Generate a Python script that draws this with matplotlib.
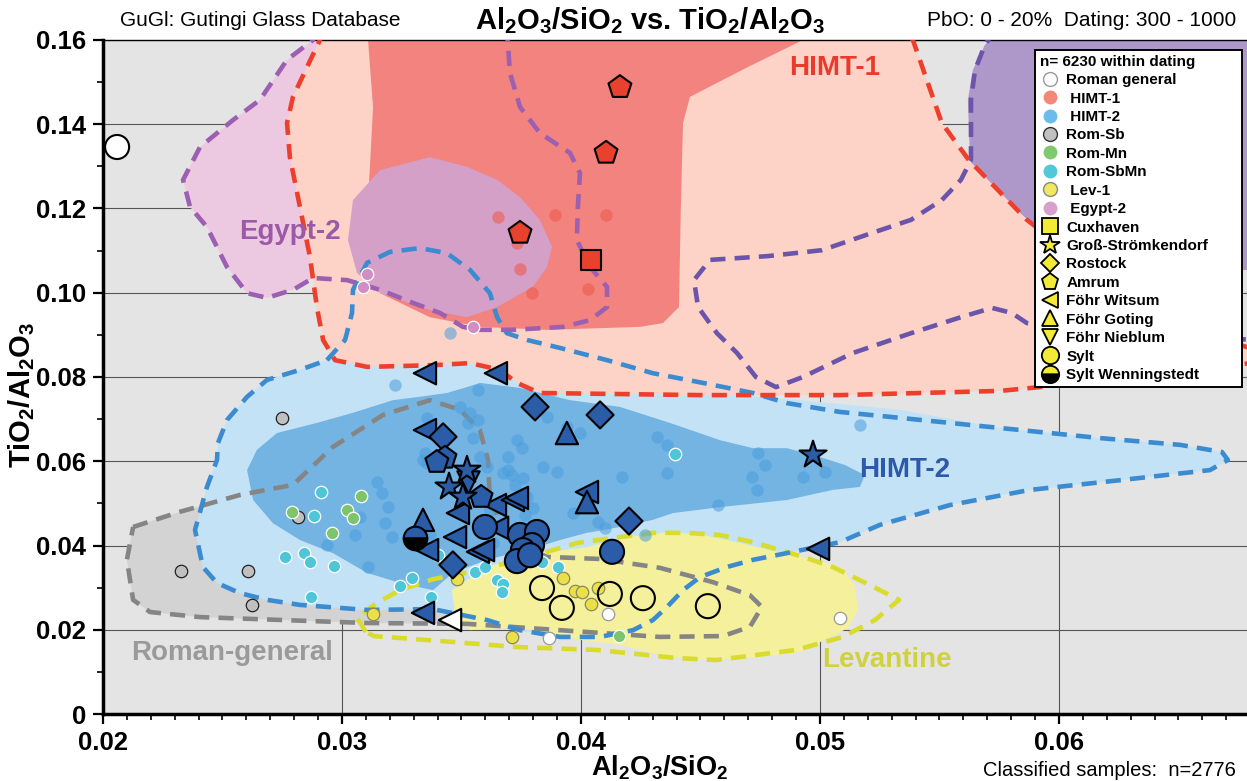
import numpy as np
import matplotlib.pyplot as plt
from matplotlib.patches import Polygon
from matplotlib.lines import Line2D
from matplotlib.ticker import FixedLocator, MultipleLocator

plt.rcParams['font.family'] = ['Liberation Sans', 'DejaVu Sans']
plt.rcParams['mathtext.fontset'] = 'custom'
plt.rcParams['mathtext.rm'] = 'Liberation Sans'
plt.rcParams['mathtext.bf'] = 'Liberation Sans:bold'
plt.rcParams['mathtext.default'] = 'bf'

# ---------------- group contours (Al2O3/SiO2 , TiO2/Al2O3) ----------------
roman_x = [.02126, .02322, .02573, .02795, .02962, .03172, .03368, .03494, .03577, .03611, .03619, .03703,
           .03858, .0408, .0433, .04552, .04707, .04757, .04707, .04594, .0433, .03912, .03523, .03105,
           .02406, .02197, .02126, .0210]
roman_y = [.0444, .0480, .0520, .0544, .0634, .0710, .0745, .0722, .0674, .0603, .0508, .0413,
           .0373, .0368, .0347, .0313, .0282, .0254, .0207, .0185, .0183, .0199, .0214, .0216,
           .0230, .0242, .0271, .0366]

himt1_x = [.02921, .02908, .02854, .02795, .0277, .02782, .02824, .02866, .02895, .02921, .02971, .03105,
           .03381, .03536, .03661, .03732, .03828, .04498, .05084, .05753, .0592, .06381, .0685, .0685,
           .06632, .06381, .06172, .06004, .05866, .05623, .0551, .05389, .05356]
himt1_y = [.1624, .1600, .1536, .1465, .1403, .1322, .1204, .1085, .0966, .0888, .0840, .0824,
           .0828, .0833, .0817, .0786, .0762, .0757, .0757, .0767, .0776, .0805, .0836, .0859,
           .0900, .0983, .1054, .1113, .1173, .1315, .1403, .1600, .1624]

himt1_core_x = [.03109, .04958, .04929, .04699, .04569, .04456, .04427, .04418, .0441, .04343, .04247,
                .03858, .03577, .03368, .03159, .03096, .03117, .0313, .03109]
himt1_core_y = [.1624, .1624, .1600, .1536, .1498, .1465, .1403, .1204, .0966, .0928, .0919,
                .0912, .0919, .0942, .0999, .1101, .1299, .1441, .1600]

egypt2_x = [.02908, .02879, .0277, .02657, .02544, .02406, .02335, .02364, .02435, .02519, .02603, .02686,
            .02795, .02879, .03021, .03159, .03297, .0341, .03506, .03577, .03715, .03925, .04038, .04109,
            .04109, .04038, .03983, .03987, .03996, .03954, .03828, .03745, .03703, .0369]
egypt2_y = [.1624, .1600, .1553, .1458, .1410, .1346, .1268, .1204, .1156, .1061, .0999, .0988,
            .1007, .1035, .1030, .1007, .0976, .0952, .0919, .0912, .0912, .0919, .0935, .0966,
            .1014, .1061, .1125, .1204, .1284, .1332, .1379, .1441, .1522, .1624]

egypt2_core_x = [.03368, .03159, .03046, .03025, .03063, .03159, .03368, .03523, .03649, .03799, .03858,
                 .03879, .03828, .03745, .03649, .03523]
egypt2_core_y = [.1322, .1291, .1220, .1125, .1047, .0999, .0959, .0942, .0966, .1014, .1061,
                 .1109, .1173, .1227, .1268, .1299]

egypt1_x = [.05732, .0569, .05649, .05632, .05632, .0559, .0551, .05381, .05218, .05008, .04782, .0454,
            .04473, .0449, .04569, .04653, .04732, .04816, .04929, .05138, .05381, .0559, .0572, .05803,
            .05866, .06172, .0685]
egypt1_y = [.1624, .1588, .1529, .1458, .1315, .1268, .1220, .1173, .1142, .1101, .1087, .1078,
            .1030, .0966, .0904, .0857, .0800, .0776, .0800, .0857, .0904, .0942, .0964, .0952,
            .0928, .0900, .0888]

egypt1_core_x = [.05753, .0569, .0564, .05619, .05628, .05649, .05753, .05879, .06004, .06172, .0685, .0685]
egypt1_core_y = [.1624, .1588, .1529, .1458, .1315, .1280, .1232, .1168, .1113, .1054, .1054, .1624]

himt2_x = [.02937, .03013, .03042, .03046, .03105, .03201, .03326, .03439, .03536, .03619, .03649, .0369,
           .03774, .03912, .04109, .04301, .0451, .0472, .04862, .05084, .05335, .05753, .06172, .06506,
           .06682, .06707, .06632, .06255, .05879, .05544, .05251, .05084, .04862, .0472, .04611, .04498,
           .04427, .0436, .04301, .04218, .0408, .03912, .03745, .03607, .03381, .03105, .02824, .02686,
           .02573, .02477, .02418, .02385, .02435, .02477, .02481, .02519, .02603, .02686, .02824]
himt2_y = [.0840, .0888, .0952, .1007, .1071, .1097, .1106, .1094, .1054, .0999, .0942, .0904,
           .0888, .0869, .0840, .0809, .0786, .0762, .0738, .0717, .0703, .0679, .0655, .0639,
           .0622, .0603, .0579, .0555, .0532, .0496, .0449, .0408, .0382, .0366, .0349, .0325,
           .0294, .0254, .0223, .0199, .0183, .0183, .0199, .0223, .0249, .0247, .0259, .0271,
           .0287, .0311, .0349, .0437, .0539, .0603, .0643, .0698, .0753, .0793, .0817]

himt2_fill_x = [.02937, .03013, .03042, .03046, .03105, .03201, .03326, .03439, .03536, .03619, .03649,
                .0369, .03774, .03912, .04109, .04301, .0451, .04916, .05335, .05753, .06172, .06506,
                .06682, .06707, .06632, .06255, .05879, .05544, .05251, .05084, .04862, .0472, .04611,
                .04498, .04427, .0436, .04301, .04218, .0408, .03912, .03745, .03607, .03381, .03105,
                .02824, .02686, .02573, .02477, .02418, .02385, .02435, .02477, .02481, .02519, .02603,
                .02686, .02824]
himt2_fill_y = [.0840, .0888, .0952, .1007, .1071, .1097, .1106, .1094, .1054, .0999, .0942,
                .0904, .0888, .0869, .0840, .0805, .0764, .0745, .0722, .0679, .0655, .0639,
                .0622, .0603, .0579, .0555, .0532, .0496, .0449, .0408, .0382, .0366, .0349,
                .0325, .0294, .0254, .0223, .0199, .0183, .0183, .0199, .0223, .0249, .0247,
                .0259, .0271, .0287, .0311, .0349, .0437, .0539, .0603, .0643, .0698, .0753,
                .0793, .0817]

himt2_core_x = [.02603, .02644, .02728, .02895, .03046, .03213, .03326, .03439, .03523, .03577,
                .03745, .03954, .04163, .04372, .04582, .0472, .04862, .05, .05105, .05188,
                .05167, .05054, .04862, .04582, .04385, .04301, .04163, .04025, .03912, .03816,
                .03607, .03464, .03381, .03243, .03105, .02962, .02824, .02711, .02628]
himt2_core_y = [.0579, .0627, .0667, .0691, .0715, .0745, .0753, .0762, .0776, .0786,
                .0774, .0745, .0729, .0691, .0650, .0631, .0631, .0610, .0591, .0567,
                .0539, .0532, .0508, .0491, .0477, .0461, .0444, .0430, .0413, .0396,
                .0366, .0335, .0294, .0311, .0335, .0382, .0413, .0453, .0508]

lev_core_x = [.0346, .03607, .03816, .04025, .04192, .04372, .0451, .04653, .04791, .04929, .05084, .05146,
              .05159, .05117, .05063, .04916, .04749, .04498, .0433, .04163, .03996, .03828, .03661,
              .03536, .03473]
lev_core_y = [.0294, .0349, .0382, .0396, .0420, .0432, .0425, .0408, .0389, .0373, .0349, .0306,
              .0247, .0204, .0188, .0147, .0135, .0128, .0140, .0164, .0176, .0199, .0204,
              .0199, .0235]

lev_x = [.031, .03063, .03146, .03243, .03381, .03536, .03745, .03983, .04163, .04301, .04444, .04582,
         .0472, .04929, .05054, .05209, .05331, .0523, .05096, .049, .04732, .04565, .04397, .04067,
         .03732, .03464, .03134]
lev_y = [.0195, .0228, .0264, .0294, .0320, .0337, .0366, .0406, .0420, .0430, .0430, .0425,
         .0408, .0373, .0349, .0306, .0271, .0223, .0183, .0152, .0140, .0128, .0133, .0152,
         .0159, .0171, .0185]

# ---------------- classified reference samples ----------------
himt1_pts_x = [.03653, .03732, .03745, .03795, .03891, .04105, .04029]
himt1_pts_y = [.1180, .1118, .1056, .0999, .1185, .1185, .1009]

himt2_pts_x = [.0322, .03452, .03569, .03858, .03941, .03996, .03494, .03536, .03569, .03527, .03356,
               .03368, .03548, .03732, .03753, .03695, .03577, .03607, .03695, .03711, .03757, .03841,
               .039, .03724, .03774, .03799, .03766, .03967, .04071, .041, .04172, .04268, .04318,
               .0436, .0436, .04573, .04715, .04736, .04741, .0477, .04929, .05021, .05167, .03146,
               .03167, .03192, .0318, .03209, .03054, .02937, .03075, .03109, .03339, .03347, .03381,
               .03368, .03632, .03619, .03674, .03356]
himt2_pts_y = [.0781, .0904, .0769, .0705, .0681, .0667, .0729, .0715, .0698, .0691, .0703,
               .0686, .0655, .0650, .0631, .0610, .0610, .0586, .0579, .0567, .0560, .0586,
               .0574, .0544, .0515, .0489, .0472, .0477, .0456, .0442, .0563, .0425, .0658,
               .0639, .0572, .0496, .0563, .0532, .0620, .0591, .0563, .0574, .0686, .0551,
               .0525, .0491, .0453, .0420, .0425, .0401, .0468, .0349, .0603, .0620, .0382,
               .0425, .0406, .0484, .0572, .0596]

romsb_x = [.02749, .02816, .02326, .02607, .02623]
romsb_y = [.0703, .0468, .0339, .0339, .0259]

rommn_x = [.02791, .03021, .03046, .0308, .02958, .04159]
rommn_y = [.0480, .0484, .0465, .0518, .0430, .0185]

romsbmn_x = [.02912, .02883, .02762, .02841, .02866, .02967, .0287, .03243, .03293, .03372, .03402,
             .03556, .03598, .03649, .03674, .0367, .03837, .03904, .04393]
romsbmn_y = [.0527, .0470, .0373, .0382, .0361, .0351, .0278, .0304, .0323, .0278, .0377,
             .0337, .0349, .0318, .0309, .0290, .0361, .0349, .0617]

lev1_pts_x = [.03925, .03975, .04004, .04071, .04042, .03481, .03711, .0313]
lev1_pts_y = [.0323, .0292, .0290, .0299, .0261, .0320, .0183, .0237]

egypt2_pts_x = [.03105, .03088, .03548]
egypt2_pts_y = [.1045, .1014, .0919]

romgen_pts_x = [.03866, .04113, .05084]
romgen_pts_y = [.0180, .0237, .0228]

# ---------------- site samples (shape = site, colour = group) ----------------
sylt_x = [.03598, .03745, .03816, .03795, .03757, .03732, .03787, .0413,
          .03837, .0392, .04121, .04259, .04531, .02059]
sylt_y = [.0444, .0425, .0432, .0401, .0389, .0363, .0377, .0385,
          .0299, .0252, .0285, .0275, .0256, .1346]
sylt_grp = ['HIMT-2'] * 8 + ['Lev-1'] * 5 + ['Roman general']

witsum_x = [.03347, .03644, .03347, .0364, .03715, .03732, .03485, .03649, .03473, .03356, .03569,
            .0359, .04025, .04992, .03339, .03452]
witsum_y = [.0809, .0809, .0674, .0496, .0508, .0513, .0477, .0442, .0420, .0389, .0385,
            .0389, .0527, .0392, .0240, .0223]
witsum_grp = ['HIMT-2'] * 15 + ['Roman general']

goting_x = [.03941, .04025, .03339]
goting_y = [.0667, .0503, .0461]
goting_grp = ['HIMT-2'] * 3

nieblum_x = [.03527]
nieblum_y = [.0551]
nieblum_grp = ['HIMT-2']

gross_x = [.03523, .03448, .03506, .04971]
gross_y = [.0579, .0539, .0515, .0615]
gross_grp = ['HIMT-2'] * 4

rostock_x = [.03423, .03808, .0408, .04201, .03464]
rostock_y = [.0658, .0729, .0710, .0458, .0354]
rostock_grp = ['HIMT-2'] * 5

amrum_x = [.03431, .03397, .03582, .04163, .04105, .03745]
amrum_y = [.0608, .0598, .0515, .1488, .1332, .1142]
amrum_grp = ['HIMT-2'] * 3 + ['HIMT-1'] * 3

cux_x = [.04042]
cux_y = [.1078]
cux_grp = ['HIMT-1']

wenn_x = [.03305]
wenn_y = [.0418]

site_colors = {'HIMT-2': '#2a5ca8', 'HIMT-1': '#e8412e', 'Lev-1': 'none', 'Roman general': 'white'}

# ---------------- figure ----------------
fig = plt.figure(figsize=(12.47, 7.81), dpi=100)
ax = fig.add_axes([103 / 1247, 67 / 781, 1144 / 1247, 674 / 781])
ax.set_facecolor('#e4e4e4')
ax.set_xlim(0.02, 0.06787)
ax.set_ylim(0, 0.16)


def fill_region(xs, ys, color, z):
    ax.add_patch(Polygon(np.column_stack([xs, ys]), closed=True, facecolor=color,
                         edgecolor='none', zorder=z))


def dashed(xs, ys, color, closed=True):
    xs, ys = list(xs), list(ys)
    if closed:
        xs, ys = xs + xs[:1], ys + ys[:1]
    ax.plot(xs, ys, color=color, lw=3.3, dashes=(3.3, 2.0), dash_capstyle='butt',
            solid_joinstyle='round', zorder=3)


fill_region(roman_x, roman_y, '#d3d3d3', 1.0)
fill_region(himt2_fill_x, himt2_fill_y, '#c3e2f5', 1.1)
fill_region(egypt1_core_x, egypt1_core_y, '#ae98ca', 1.15)
fill_region(egypt2_x, egypt2_y, '#edc9e1', 1.2)
fill_region(himt1_x, himt1_y, '#fcd3c6', 1.3)
fill_region(lev_core_x, lev_core_y, '#f4f09c', 1.4)
fill_region(himt2_core_x, himt2_core_y, '#73b4e3', 1.5)
fill_region(himt1_core_x, himt1_core_y, '#f2837e', 1.6)
fill_region(egypt2_core_x, egypt2_core_y, '#d4a0c8', 1.7)

dashed(roman_x, roman_y, '#858585')
dashed(lev_x, lev_y, '#d9dc2c')
dashed(himt2_x, himt2_y, '#3b8bd0')
dashed(egypt1_x, egypt1_y, '#6b55aa', closed=False)
dashed(egypt2_x, egypt2_y, '#9c5fb2')
dashed(himt1_x, himt1_y, '#ee3f2c')

# group labels
lab = dict(fontsize=20, fontweight='bold', ha='center', va='center', zorder=3.5)
ax.text(0.05063, 0.1534, 'HIMT-1', color='#ea3a2c', **lab)
ax.text(0.05356, 0.0579, 'HIMT-2', color='#2c5aa8', **lab)
ax.text(0.02782, 0.1144, 'Egypt-2', color='#9b59a8', **lab)
ax.text(0.0254, 0.0145, 'Roman-general', color='#9a9a9a', **lab)
ax.text(0.0528, 0.0128, 'Levantine', color='#cfd23c', **lab)

# reference samples
ax.scatter(himt2_pts_x, himt2_pts_y, s=80, color='#4a9edc', alpha=0.55, lw=0, zorder=4)
ax.scatter(himt1_pts_x, himt1_pts_y, s=80, color='#ee5a4e', alpha=0.6, lw=0, zorder=4)
ax.scatter(romsb_x, romsb_y, s=80, color='#c0c0c0', edgecolors='#222222', lw=0.9, zorder=4)
ax.scatter(rommn_x, rommn_y, s=80, color='#7ec46c', edgecolors='white', lw=0.9, zorder=4)
ax.scatter(romsbmn_x, romsbmn_y, s=80, color='#4fc6d8', edgecolors='white', lw=0.9, zorder=4)
ax.scatter(lev1_pts_x, lev1_pts_y, s=80, color='#ece04a', edgecolors='#8a8a5a', lw=0.9, zorder=4)
ax.scatter(egypt2_pts_x, egypt2_pts_y, s=80, color='#cf8ec4', edgecolors='white', lw=0.9, zorder=4)
ax.scatter(romgen_pts_x, romgen_pts_y, s=80, color='white', edgecolors='#999999', lw=0.9, zorder=4)


def site(xs, ys, grp, marker, size):
    cols = [site_colors[g] for g in grp]
    ax.scatter(xs, ys, s=size, marker=marker, c=cols, edgecolors='black', lw=1.5, zorder=5)


site(witsum_x, witsum_y, witsum_grp, '<', 260)
site(goting_x, goting_y, goting_grp, '^', 260)
site(nieblum_x, nieblum_y, nieblum_grp, 'v', 260)
site(rostock_x, rostock_y, rostock_grp, 'D', 190)
site(amrum_x, amrum_y, amrum_grp, 'p', 300)
site(gross_x, gross_y, gross_grp, '*', 420)
site(cux_x, cux_y, cux_grp, 's', 190)
site(sylt_x, sylt_y, sylt_grp, 'o', 300)
ax.plot(wenn_x, wenn_y, ls='none', marker='o', ms=17, fillstyle='top', mfc='#2a5ca8',
        markerfacecoloralt='black', mec='black', mew=1.5, zorder=5)

# axes styling
ax.set_axisbelow(True)
ax.xaxis.set_major_locator(FixedLocator([0.02, 0.03, 0.04, 0.05, 0.06]))
ax.xaxis.set_minor_locator(MultipleLocator(0.001))
ax.yaxis.set_major_locator(FixedLocator([0, 0.02, 0.04, 0.06, 0.08, 0.10, 0.12, 0.14, 0.16]))
ax.yaxis.set_minor_locator(MultipleLocator(0.01))
ax.set_xticklabels(['0.02', '0.03', '0.04', '0.05', '0.06'])
ax.set_yticklabels(['0', '0.02', '0.04', '0.06', '0.08', '0.10', '0.12', '0.14', '0.16'])
ax.grid(True, which='major', color='#555555', lw=0.8)
ax.tick_params(which='major', direction='out', length=7, width=1.6, labelsize=18.5, pad=5)
ax.tick_params(axis='x', which='major', pad=5)
ax.tick_params(which='minor', direction='out', length=4, width=1.2)
for lbl in ax.get_xticklabels() + ax.get_yticklabels():
    lbl.set_fontweight('bold')
ax.spines['right'].set_visible(False)
ax.spines['top'].set_linewidth(1.0)
ax.spines['left'].set_linewidth(2.5)
ax.spines['bottom'].set_linewidth(2.5)

fig.text(660 / 1247, 1 - 768 / 781, r'Al$_2$O$_3$/SiO$_2$', fontsize=19.5, fontweight='bold',
         ha='center', va='center')
fig.text(22 / 1247, 1 - 395 / 781, r'TiO$_2$/Al$_2$O$_3$', fontsize=21, fontweight='bold',
         rotation=90, ha='center', va='center')

# legend
def grp_handle(label, fc, ec='none'):
    return Line2D([], [], ls='none', marker='o', ms=10, mfc=fc, mec=ec, mew=1.0, label=label)


def site_handle(label, marker, ms=11.5):
    return Line2D([], [], ls='none', marker=marker, ms=ms, mfc='#f3ea36', mec='black', mew=1.3,
                  label=label)


handles = [
    grp_handle('Roman general', 'white', '#999999'),
    grp_handle(' HIMT-1', '#f28878'),
    grp_handle(' HIMT-2', '#6bbcec'),
    grp_handle('Rom-Sb', '#c0c0c0', '#333333'),
    grp_handle('Rom-Mn', '#80c870'),
    grp_handle('Rom-SbMn', '#50c8d8'),
    grp_handle(' Lev-1', '#f0e860', '#888888'),
    grp_handle(' Egypt-2', '#d8a0cc'),
    site_handle('Cuxhaven', 's'),
    site_handle('Groß-Strömkendorf', '*', 15),
    site_handle('Rostock', 'D', 9.5),
    site_handle('Amrum', 'p', 12.5),
    site_handle('Föhr Witsum', '<'),
    site_handle('Föhr Goting', '^'),
    site_handle('Föhr Nieblum', 'v'),
    site_handle('Sylt', 'o', 12.5),
    Line2D([], [], ls='none', marker='o', ms=12.5, fillstyle='top', mfc='#f3ea36',
           markerfacecoloralt='black', mec='black', mew=1.3, label='Sylt Wenningstedt'),
]
leg_left = (1035 - 103) / 1144
leg_w = 207 / 1144
leg = ax.legend(handles=handles, loc='upper left', bbox_to_anchor=(leg_left, 0.5, leg_w, 0.485),
                mode='expand', title='n= 6230 within dating',
                title_fontproperties={'weight': 'bold', 'size': 11},
                prop={'weight': 'bold', 'size': 11}, frameon=True, fancybox=False, framealpha=1,
                edgecolor='black', borderpad=0.3, labelspacing=0.29, handletextpad=0.45,
                handlelength=1.3, borderaxespad=0, alignment='left')
leg.get_frame().set_linewidth(1.4)
leg.set_zorder(10)

# header / footer texts
fig.text(120 / 1247, 1 - 21 / 781, 'GuGl: Gutingi Glass Database', fontsize=15, ha='left', va='center')
fig.text(650 / 1247, 1 - 21 / 781, r'Al$_2$O$_3$/SiO$_2$ vs. TiO$_2$/Al$_2$O$_3$', fontsize=21,
         fontweight='bold', ha='center', va='center')
fig.text(1236 / 1247, 1 - 21 / 781, 'PbO: 0 - 20%  Dating: 300 - 1000', fontsize=15,
         ha='right', va='center')
fig.text(1236 / 1247, 1 - 770 / 781, 'Classified samples:  n=2776', fontsize=14.5,
         ha='right', va='center')

fig.savefig('out.png', dpi=100)
